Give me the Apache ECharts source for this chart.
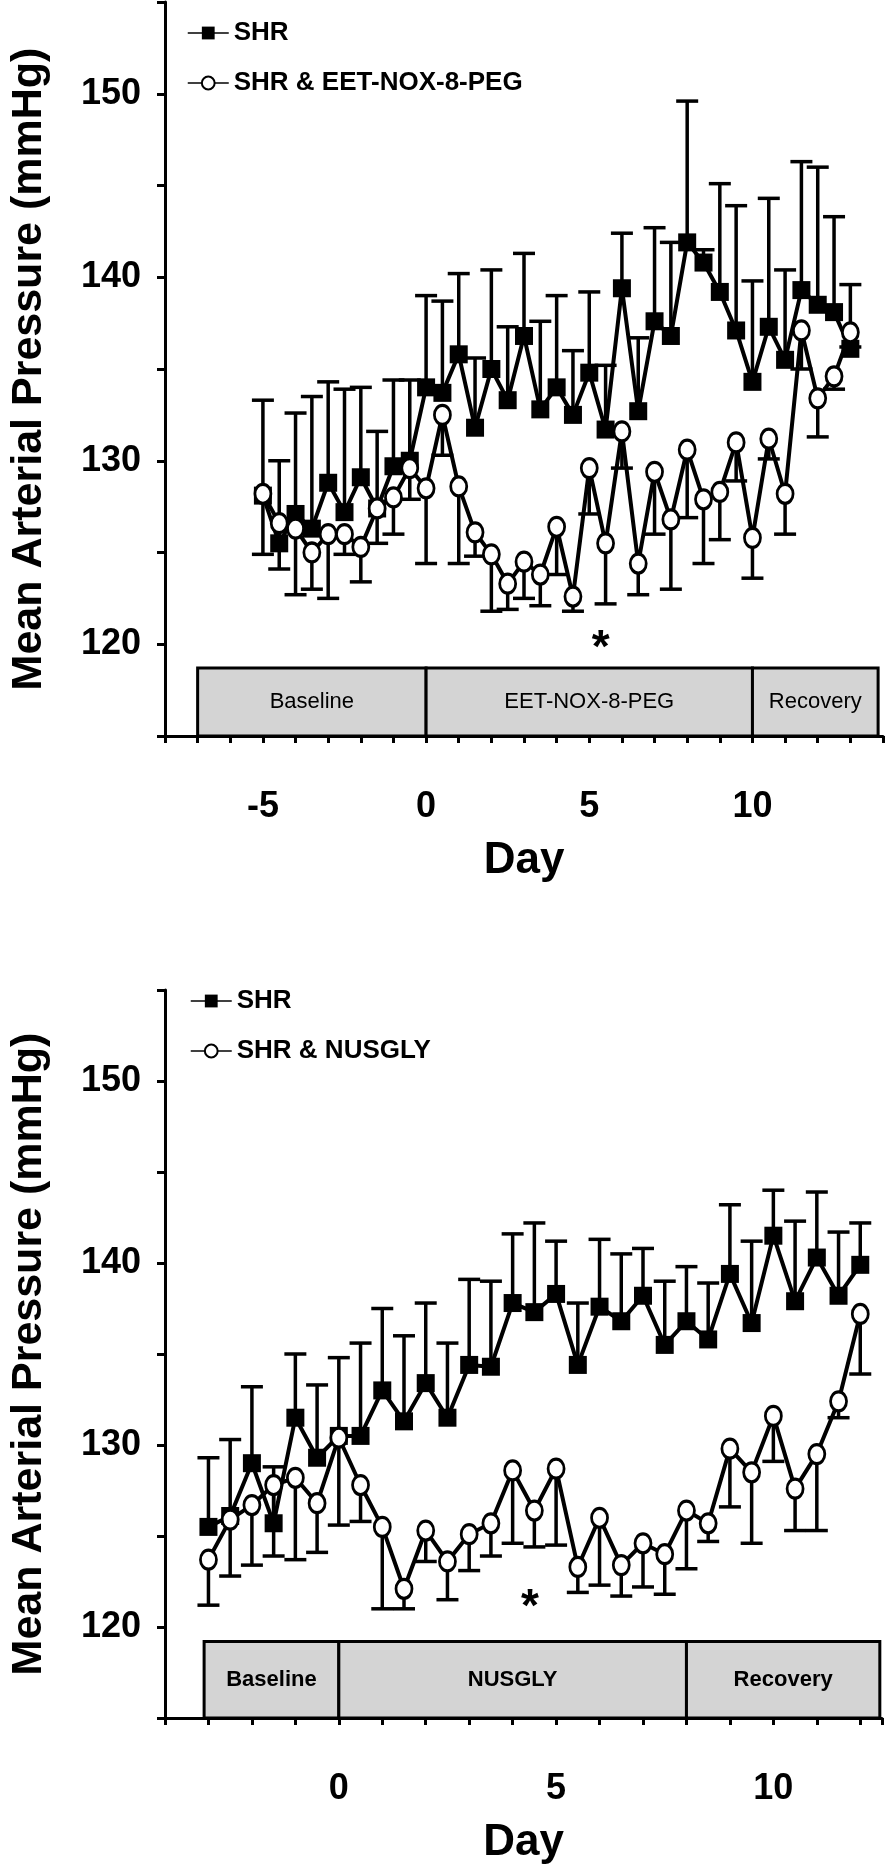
<!DOCTYPE html>
<html>
<head>
<meta charset="utf-8">
<script src="https://cdn.jsdelivr.net/npm/echarts@6/dist/echarts.min.js"></script>
<style>
  html, body { margin: 0; padding: 0; background: #fff; }
  #chart { width: 886px; height: 1866px; }
</style>
</head>
<body>
<div id="chart"></div>
<script>
// ---- Panel A: SHR vs SHR & EET-NOX-8-PEG ----
const daysA = [-5, -4.5, -4, -3.5, -3, -2.5, -2, -1.5, -1, -0.5, 0, 0.5, 1, 1.5, 2, 2.5, 3, 3.5, 4, 4.5,
  5, 5.5, 6, 6.5, 7, 7.5, 8, 8.5, 9, 9.5, 10, 10.5, 11, 11.5, 12, 12.5, 13];
const shrA = [128.1, 125.5, 127.1, 126.3, 128.8, 127.2, 129.1, 127.4, 129.7, 130.0, 134.0, 133.7, 135.8, 131.8,
  135.0, 133.3, 136.8, 132.8, 134.0, 132.5, 134.8, 131.7, 139.4, 132.7, 137.6, 136.8, 141.9, 140.8, 139.2,
  137.1, 134.3, 137.3, 135.5, 139.3, 138.5, 138.1, 136.1];
const shrTopA = [133.3, 130.0, 132.6, 133.5, 134.3, 133.9, 134.0, 131.6, 134.4, 134.4, 139.0, 138.7, 140.2, 135.6,
  140.4, 137.3, 141.3, 137.6, 139.0, 136.0, 139.2, 135.2, 142.4, 136.7, 142.7, 141.9, 149.6, 141.5, 145.1,
  143.9, 139.8, 144.3, 140.4, 146.3, 146.0, 143.3, 139.6];
const eetA = [128.2, 126.6, 126.3, 125.0, 126.0, 126.0, 125.3, 127.4, 128.0, 129.6, 128.5, 132.5, 128.6, 126.1,
  124.9, 123.3, 124.5, 123.8, 126.4, 122.6, 129.6, 125.5, 131.6, 124.4, 129.4, 126.8, 130.6, 127.9, 128.3,
  131.0, 125.8, 131.2, 128.2, 137.1, 133.4, 134.6, 137.0];
const eetLowA = [124.9, 124.1, 122.7, 123.0, 122.5, 124.9, 123.4, 125.5, 126.0, 127.9, 124.4, 130.3, 124.4, 124.8,
  121.8, 121.9, 122.5, 122.1, 123.8, 121.8, 127.1, 122.2, 129.6, 122.7, 126.0, 123.0, 126.9, 124.4, 125.7,
  128.9, 123.6, 130.1, 126.0, 135.0, 131.3, 133.9, 136.2];
const phasesA = [
  { name: 'Baseline', start: -7, end: 0 },
  { name: 'EET-NOX-8-PEG', start: 0, end: 10 },
  { name: 'Recovery', start: 10, end: 13.85 }
];
const starA = [5.35, 120.4];

// ---- Panel B: SHR vs SHR & NUSGLY ----
const daysB = [-3, -2.5, -2, -1.5, -1, -0.5, 0, 0.5, 1, 1.5, 2, 2.5, 3, 3.5, 4, 4.5, 5, 5.5, 6, 6.5,
  7, 7.5, 8, 8.5, 9, 9.5, 10, 10.5, 11, 11.5, 12];
const shrB = [125.5, 126.1, 129.0, 125.7, 131.5, 129.3, 130.5, 130.5, 133.0, 131.3, 133.4, 131.5, 134.4, 134.3,
  137.8, 137.3, 138.3, 134.4, 137.6, 136.8, 138.2, 135.5, 136.8, 135.8, 139.4, 136.7, 141.5, 137.9, 140.3,
  138.2, 139.9];
const shrTopB = [129.3, 130.3, 133.2, 128.8, 135.0, 133.3, 134.8, 135.6, 137.5, 136.0, 137.8, 135.6, 139.1, 139.0,
  141.6, 142.2, 141.2, 137.8, 141.3, 140.5, 140.8, 139.0, 139.8, 138.9, 143.2, 141.2, 144.0, 142.3, 143.9,
  141.7, 142.2];
const nusB = [123.7, 125.9, 126.7, 127.8, 128.2, 126.8, 130.4, 127.8, 125.5, 122.1, 125.3, 123.6, 125.1, 125.7,
  128.6, 126.4, 128.7, 123.3, 126.0, 123.4, 124.6, 124.0, 126.4, 125.7, 129.8, 128.5, 131.6, 127.6, 129.5,
  132.4, 137.2];
const nusLowB = [121.2, 122.8, 123.4, 123.9, 123.7, 124.1, 125.6, 125.8, 121.0, 121.0, 123.6, 121.5, 123.1, 123.9,
  124.6, 124.4, 124.5, 121.9, 122.3, 121.7, 122.2, 121.8, 123.2, 124.7, 126.6, 124.6, 129.1, 125.3, 125.3,
  131.5, 133.9];
const phasesB = [
  { name: 'Baseline', start: -3.1, end: 0 },
  { name: 'NUSGLY', start: 0, end: 8 },
  { name: 'Recovery', start: 8, end: 12.45 }
];
const starB = [4.4, 121.7];

const yTickLabels = [120, 130, 140, 150];
const xTickLabels = [-5, 0, 5, 10];

// phase band vertical extent (in mmHg units)
const bandTopA = 118.7, bandTopB = 119.2, bandBottom = 115;

const FONT = '"Liberation Sans", Arial, sans-serif';
const zip = (xs, ys) => xs.map((x, i) => [x, ys[i]]);
const zip3 = (xs, ys, es) => xs.map((x, i) => [x, ys[i], es[i]]);

function errorBarItem(params, api) {
  const p0 = api.coord([api.value(0), api.value(1)]);
  const p1 = api.coord([api.value(0), api.value(2)]);
  const hw = 11;
  const st = { stroke: '#000', lineWidth: 3.5 };
  return {
    type: 'group',
    children: [
      { type: 'line', shape: { x1: p0[0], y1: p0[1], x2: p1[0], y2: p1[1] }, style: st },
      { type: 'line', shape: { x1: p1[0] - hw, y1: p1[1], x2: p1[0] + hw, y2: p1[1] }, style: st }
    ]
  };
}

function phaseItem(phases, top, bold) {
  return (params, api) => {
    const a = api.coord([api.value(0), top]);
    const b = api.coord([api.value(1), bandBottom]);
    const name = phases[params.dataIndex].name;
    return {
      type: 'group',
      children: [
        { type: 'rect', shape: { x: a[0], y: a[1], width: b[0] - a[0], height: b[1] - a[1] },
          style: { fill: '#d4d4d4', stroke: '#000', lineWidth: 3 } },
        { type: 'text', x: (a[0] + b[0]) / 2, y: (a[1] + b[1]) / 2,
          style: { text: name, fill: '#000', font: (bold ? 'bold ' : '') + '22px ' + FONT,
            align: 'center', verticalAlign: 'middle' } }
      ]
    };
  };
}

function starItem(params, api) {
  const p = api.coord([api.value(0), api.value(1)]);
  return { type: 'text', x: p[0], y: p[1] + 12,
    style: { text: '*', fill: '#000', font: 'bold 46px ' + FONT, align: 'center', verticalAlign: 'middle' } };
}

function xAxis(gridIndex, min, max) {
  return {
    type: 'value', gridIndex, min, max, interval: 1,
    axisLine: { onZero: false, lineStyle: { color: '#000', width: 3 } },
    axisTick: { inside: false, length: 7, lineStyle: { color: '#000', width: 3 } },
    axisLabel: { margin: 53, color: '#000', fontSize: 36, fontWeight: 'bold', fontFamily: FONT,
      formatter: (v) => (xTickLabels.includes(v) ? String(v) : '') },
    splitLine: { show: false },
    name: 'Day', nameLocation: 'middle', nameGap: 103,
    nameTextStyle: { color: '#000', fontSize: 44, fontWeight: 'bold', fontFamily: FONT }
  };
}

function yAxis(gridIndex) {
  return {
    type: 'value', gridIndex, min: 115, max: 155, interval: 5,
    axisLine: { onZero: false, lineStyle: { color: '#000', width: 3 } },
    axisTick: { inside: false, length: 8, lineStyle: { color: '#000', width: 3 } },
    axisLabel: { margin: 24, color: '#000', fontSize: 36, fontWeight: 'bold', fontFamily: FONT,
      formatter: (v) => (yTickLabels.includes(v) ? String(v) : '') },
    splitLine: { show: false },
    name: 'Mean Arterial Pressure (mmHg)', nameLocation: 'middle', nameRotate: 90, nameGap: 114,
    nameTextStyle: { color: '#000', fontSize: 43, fontWeight: 'bold', fontFamily: FONT }
  };
}

const squareStyle = {
  symbol: 'rect', symbolSize: 18,
  itemStyle: { color: '#000' },
  lineStyle: { color: '#000', width: 4 }
};
const circleStyle = {
  symbol: 'circle', symbolSize: [16, 19],
  itemStyle: { color: '#fff', borderColor: '#000', borderWidth: 3 },
  lineStyle: { color: '#000', width: 4 }
};

function panelSeries(idx, days, shr, shrTop, trt, trtLow, trtName, phases, bandTop, star, boldPhase) {
  const ax = { xAxisIndex: idx, yAxisIndex: idx };
  return [
    { type: 'custom', ...ax, z: 1, silent: true, renderItem: phaseItem(phases, bandTop, boldPhase),
      data: phases.map((p) => [p.start, p.end]) },
    { type: 'custom', ...ax, z: 2, silent: true, renderItem: errorBarItem, data: zip3(days, shr, shrTop) },
    { type: 'custom', ...ax, z: 2, silent: true, renderItem: errorBarItem, data: zip3(days, trt, trtLow) },
    { type: 'line', name: 'SHR', ...ax, z: 3, ...squareStyle, data: zip(days, shr) },
    { type: 'line', name: trtName, ...ax, z: 4, ...circleStyle, data: zip(days, trt) },
    { type: 'custom', ...ax, z: 5, silent: true, renderItem: starItem, data: [star] }
  ];
}

const legendText = { color: '#000', fontSize: 26, fontWeight: 'bold', fontFamily: FONT, lineHeight: 30 };

const chart = echarts.init(document.getElementById('chart'), null, { renderer: 'canvas' });
chart.setOption({
  animation: false,
  backgroundColor: '#fff',
  grid: [
    { left: 163, top: 2, width: 721, height: 734 },
    { left: 163, top: 990, width: 719, height: 735 }
  ],
  legend: [
    { orient: 'vertical', left: 187, top: 18, padding: 0, itemWidth: 41, itemHeight: 16, itemGap: 20,
      data: ['SHR', 'SHR & EET-NOX-8-PEG'], textStyle: legendText, selectedMode: false,
      lineStyle: { width: 1.5 } },
    { orient: 'vertical', left: 190, top: 986, padding: 0, itemWidth: 41, itemHeight: 16, itemGap: 20,
      data: ['SHR', 'SHR & NUSGLY'], textStyle: legendText, selectedMode: false,
      lineStyle: { width: 1.5 } }
  ],
  xAxis: [xAxis(0, -8, 14), xAxis(1, -4, 12.5)],
  yAxis: [yAxis(0), yAxis(1)],
  series: [
    ...panelSeries(0, daysA, shrA, shrTopA, eetA, eetLowA, 'SHR & EET-NOX-8-PEG', phasesA, bandTopA, starA, false),
    ...panelSeries(1, daysB, shrB, shrTopB, nusB, nusLowB, 'SHR & NUSGLY', phasesB, bandTopB, starB, true)
  ]
});
</script>
</body>
</html>
